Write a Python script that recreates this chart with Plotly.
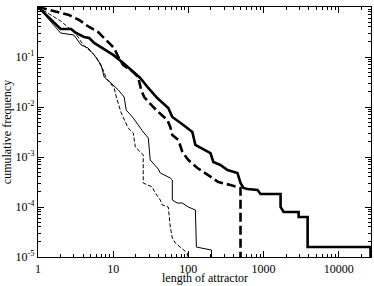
import numpy as np
import plotly.graph_objects as go

# thick solid
len_a = [1, 2, 2.75, 3.21, 4.11, 4.79, 5.58, 7.36, 10, 13.6, 18.5, 22.9, 29.3, 38.6, 54.1,
         61.2, 85.8, 113, 124, 197, 215, 267, 331, 450, 494, 541, 612, 832, 912, 1686,
         1686, 1848, 2929, 2929, 3861, 3861, 26500, 26500]
freq_a = [1, 0.363, 0.363, 0.302, 0.251, 0.240, 0.191, 0.145, 0.110, 0.0759, 0.0501, 0.038,
          0.024, 0.0151, 0.00955, 0.00631, 0.00437, 0.00316, 0.00174, 0.0012, 7.94e-4,
          6.92e-4, 5.5e-4, 4.79e-4, 3.02e-4, 2.4e-4, 2.29e-4, 2.19e-4, 1.82e-4, 1.82e-4,
          1.0e-4, 7.94e-5, 7.94e-5, 6.31e-5, 6.31e-5, 1.58e-5, 1.58e-5, 1e-8]

# thick dashed
len_b = [1, 2, 2.59, 3.52, 4.79, 6.31, 8.07, 10.3, 11.7, 13.6, 18.5, 21.5, 23.6, 25.9, 32.1,
         39.8, 52.5, 57.5, 61.2, 73.6, 83.2, 100, 132, 168, 197, 251, 363, 494, 494]
freq_b = [1, 0.76, 0.692, 0.55, 0.398, 0.316, 0.219, 0.151, 0.1, 0.0692, 0.0501, 0.0398,
          0.0219, 0.0158, 0.011, 0.00794, 0.0055, 0.00398, 0.00275, 0.00219, 0.00126,
          8.71e-4, 6.03e-4, 4.79e-4, 3.98e-4, 3.16e-4, 2.75e-4, 2.4e-4, 1e-8]

# thin solid
len_c = [1, 2, 3, 3.21, 3.74, 4.64, 5.58, 6.92, 7.59, 10, 11.7, 14, 14.9, 18.5, 22.2, 25.1,
         29.3, 30.2, 31.1, 39.8, 42.3, 57.5, 61.2, 61.2, 71.3, 83.2, 100, 124, 128, 203, 203]
freq_c = [1, 0.302, 0.275, 0.24, 0.174, 0.151, 0.11, 0.0692, 0.0398, 0.0275, 0.0219, 0.0158,
          0.0087, 0.00603, 0.00398, 0.00316, 0.0024, 0.00138, 8.71e-4, 5.75e-4, 4.79e-4,
          3.8e-4, 3.47e-4, 1.38e-4, 1.2e-4, 1.2e-4, 1e-4, 8.71e-5, 1.58e-5, 1.38e-5, 1e-8]

# thin dashed
len_d = [1, 2, 3, 3.41, 3.98, 4.79, 5.93, 7.36, 8.07, 10.3, 11, 12.8, 15.8, 18.5, 19.7, 25.1,
         25.1, 33.1, 36.3, 42.3, 45, 54.1, 57.5, 61.2, 67.1, 78.2, 85.8, 97, 100]
freq_d = [1, 0.525, 0.316, 0.251, 0.174, 0.138, 0.1, 0.055, 0.038, 0.024, 0.0158, 0.00759,
          0.0038, 0.00302, 0.00158, 0.0011, 3.02e-4, 2.51e-4, 1.91e-4, 1.38e-4, 1.1e-4,
          1e-4, 3.98e-5, 2.4e-5, 1.91e-5, 1.58e-5, 1.38e-5, 1.2e-5, 1e-8]

x_ticks = [1, 10, 100, 1000, 10000]
y_ticks = [1, 0.1, 0.01, 1e-3, 1e-4, 1e-5]
y_labels = ["10<sup>0</sup>", "10<sup>-1</sup>", "10<sup>-2</sup>", "10<sup>-3</sup>",
            "10<sup>-4</sup>", "10<sup>-5</sup>"]

series = [
    (len_a, freq_a, 2.6, "solid"),
    (len_b, freq_b, 2.6, "9px,4px"),
    (len_c, freq_c, 1.0, "solid"),
    (len_d, freq_d, 1.0, "4px,2px"),
]

fig = go.Figure()
for xs, ys, w, dash in series:
    fig.add_trace(go.Scatter(x=xs, y=ys, mode="lines",
                             line=dict(color="black", width=w, dash=dash),
                             showlegend=False, hoverinfo="skip"))

# minor ticks at 2..9 of every decade
x_minor = [m * 10 ** e for e in range(0, 5) for m in range(2, 10)]
y_minor = [m * 10.0 ** e for e in range(-5, 0) for m in range(2, 10)]

serif = "Liberation Serif, Times New Roman, serif"
axis_common = dict(
    type="log", showline=True, linecolor="black", linewidth=1.2, mirror="ticks",
    ticks="inside", ticklen=6, tickcolor="black", showgrid=False, zeroline=False,
    automargin=False,
    tickfont=dict(family=serif, size=12, color="black"),
)

fig.update_xaxes(**axis_common, range=[0, np.log10(26900)], tickvals=x_ticks,
                 ticktext=[str(v) for v in x_ticks],
                 minor=dict(ticks="inside", ticklen=3, tickcolor="black", showgrid=False,
                            tickmode="array", tickvals=x_minor))
fig.update_yaxes(**axis_common, range=[-5, 0], tickvals=y_ticks, ticktext=y_labels,
                 minor=dict(ticks="inside", ticklen=3, tickcolor="black", showgrid=False,
                            tickmode="array", tickvals=y_minor),
                 title=dict(text="cumulative frequency", standoff=2,
                            font=dict(family=serif, size=12, color="black")))

# x title as an annotation so it can sit a little lower than plotly puts it
fig.add_annotation(text="length of attractor", xref="paper", yref="paper", x=0.5, y=0,
                   xanchor="center", yanchor="top", yshift=-13, borderpad=0,
                   showarrow=False, font=dict(family=serif, size=12, color="black"))

fig.update_layout(width=374, height=286, margin=dict(l=38, r=3, t=7, b=29),
                  plot_bgcolor="white", paper_bgcolor="white")

# the page body has a default margin; drop it so the figure sits at the corner
fig.write_html("out.html", config={"displayModeBar": False},
               post_script="document.body.style.margin='0';")
